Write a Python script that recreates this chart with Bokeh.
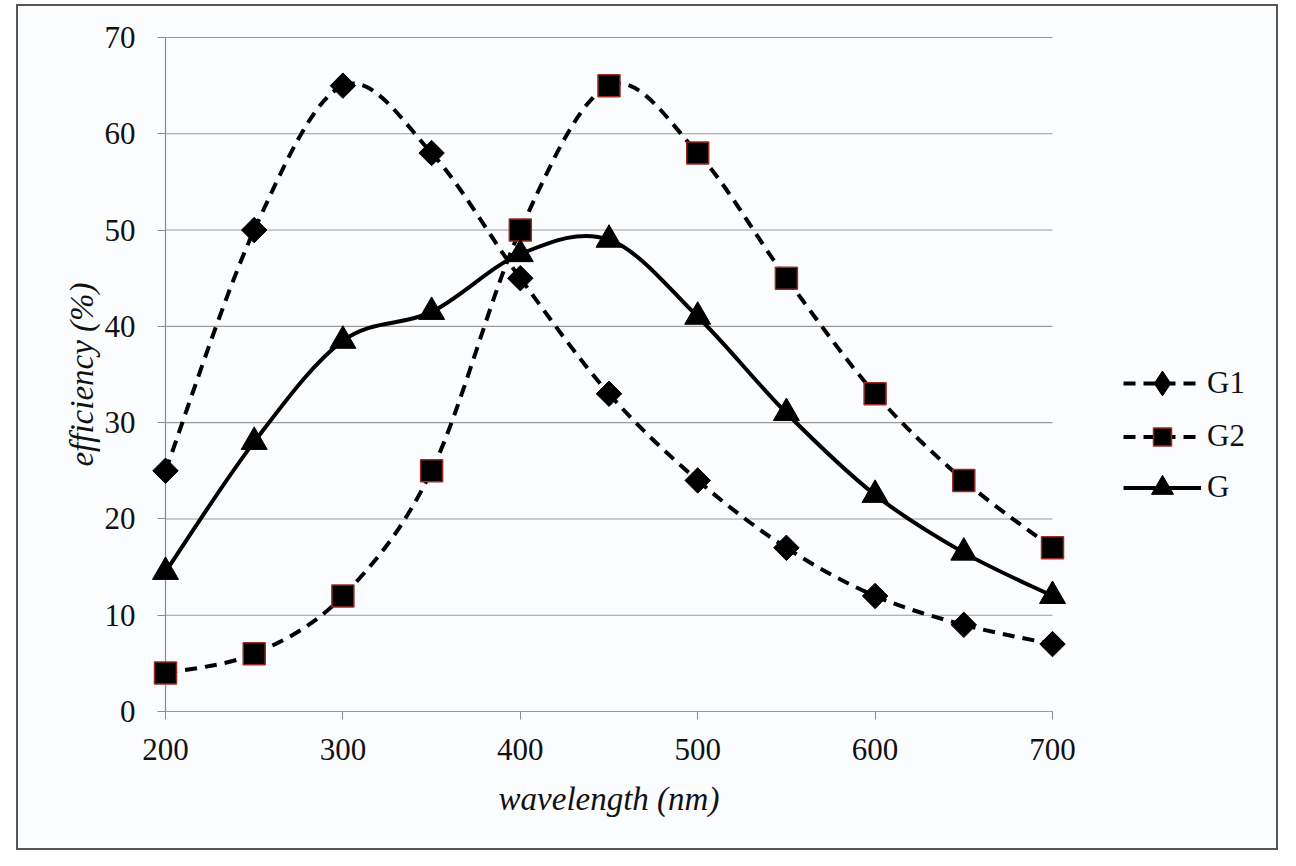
import math
from bokeh.plotting import figure
from bokeh.models import Legend, LegendItem, Range1d, FixedTicker, Label
from bokeh.embed import file_html
from bokeh.resources import INLINE

wavelength = [200, 250, 300, 350, 400, 450, 500, 550, 600, 650, 700]
g1 = [25, 50, 65, 58, 45, 33, 24, 17, 12, 9, 7]
g2 = [4, 6, 12, 25, 50, 65, 58, 45, 33, 24, 17]
g = [14.5, 28, 38.5, 41.5, 47.5, 49, 41, 31, 22.5, 16.5, 12]
series_names = ["G1", "G2", "G"]
x_ticks = [200, 300, 400, 500, 600, 700]
y_ticks = [0, 10, 20, 30, 40, 50, 60, 70]

SERIF = "Liberation Serif"

# pixel layout of the plotting area inside the framed canvas
CANVAS_W, CANVAS_H = 1262, 846
AREA_L, AREA_R, AREA_T, AREA_B = 147, 1034, 31, 705   # canvas px of 200/700 and 70/0
xs_per_px = (x_ticks[-1] - x_ticks[0]) / (AREA_R - AREA_L)
ys_per_px = (y_ticks[-1] - y_ticks[0]) / (AREA_B - AREA_T)
x_start = x_ticks[0] - AREA_L * xs_per_px
x_end = x_ticks[-1] + (CANVAS_W - AREA_R) * xs_per_px
y_end = y_ticks[-1] + AREA_T * ys_per_px
y_start = y_ticks[0] - (CANVAS_H - AREA_B) * ys_per_px


def bezier_segments(xs, ys):
    """Catmull-Rom style control points (chart smoothing) from the data points."""
    n = len(xs)
    out = dict(x0=[], y0=[], x1=[], y1=[], cx0=[], cy0=[], cx1=[], cy1=[])
    for i in range(n - 1):
        p0 = (xs[max(i - 1, 0)], ys[max(i - 1, 0)])
        p1 = (xs[i], ys[i])
        p2 = (xs[i + 1], ys[i + 1])
        p3 = (xs[min(i + 2, n - 1)], ys[min(i + 2, n - 1)])
        out["x0"].append(p1[0]); out["y0"].append(p1[1])
        out["x1"].append(p2[0]); out["y1"].append(p2[1])
        out["cx0"].append(p1[0] + (p2[0] - p0[0]) / 6.0)
        out["cy0"].append(p1[1] + (p2[1] - p0[1]) / 6.0)
        out["cx1"].append(p2[0] - (p3[0] - p1[0]) / 6.0)
        out["cy1"].append(p2[1] - (p3[1] - p1[1]) / 6.0)
    return out


p = figure(width=CANVAS_W, height=CANVAS_H, output_backend="svg", toolbar_location=None,
           x_range=Range1d(x_start, x_end), y_range=Range1d(y_start, y_end),
           min_border_left=0, min_border_right=0, min_border_top=0,
           min_border_bottom=0, background_fill_color="#fbfcfe",
           border_fill_color="#fbfcfe", outline_line_color=None)
p.styles = {"border": "2px solid #555555", "margin-left": "16px", "margin-top": "4px"}

# axes, fixed at wavelength 200 and efficiency 0
p.xaxis.ticker = FixedTicker(ticks=x_ticks)
p.yaxis.ticker = FixedTicker(ticks=y_ticks)
p.xaxis.fixed_location = y_ticks[0]
p.yaxis.fixed_location = x_ticks[0]
p.xaxis.bounds = (x_ticks[0], x_ticks[-1])
p.yaxis.bounds = (y_ticks[0], y_ticks[-1])
for ax in (p.xaxis[0], p.yaxis[0]):
    ax.level = "underlay"
    ax.axis_line_color = "#8a8a8a"
    ax.axis_line_width = 1.2
    ax.major_tick_line_color = "#8a8a8a"
    ax.major_tick_in = 0
    ax.major_tick_out = 8
    ax.minor_tick_line_color = None
    ax.major_label_text_font = SERIF
    ax.major_label_text_font_size = "31px"
    ax.major_label_text_color = "#111111"
p.xaxis.major_label_standoff = 19
p.yaxis.major_label_standoff = 22

p.xgrid.grid_line_color = None
p.ygrid.grid_line_color = None

# horizontal grid lines between the first and last wavelength ticks
p.segment(x0=[x_ticks[0]] * len(y_ticks), x1=[x_ticks[-1]] * len(y_ticks),
          y0=y_ticks, y1=y_ticks, line_color="#9a9a9a", line_width=1.1)

# axis titles
p.add_layout(Label(x=(x_ticks[0] + x_ticks[-1]) / 2, y=y_ticks[0] - 87 * ys_per_px,
                   text="wavelength (nm)", text_align="center", text_baseline="middle",
                   text_font=SERIF, text_font_style="italic", text_font_size="33px",
                   text_color="#111111"))
p.add_layout(Label(x=x_ticks[0] - 84 * xs_per_px, y=(y_ticks[0] + y_ticks[-1]) / 2,
                   text="efficiency (%)", text_align="center", text_baseline="middle",
                   angle=math.pi / 2, text_font=SERIF, text_font_style="italic",
                   text_font_size="33px", text_color="#111111"))

# curves
seg1 = bezier_segments(wavelength, g1)
seg2 = bezier_segments(wavelength, g2)
seg3 = bezier_segments(wavelength, g)

curve_kw = dict(x0="x0", y0="y0", x1="x1", y1="y1", cx0="cx0", cy0="cy0",
                cx1="cx1", cy1="cy1", line_color="black", line_width=4)
c1 = p.bezier(source=seg1, line_dash="12 8", **curve_kw)
c2 = p.bezier(source=seg2, line_dash="12 8", **curve_kw)
c3 = p.bezier(source=seg3, **curve_kw)

m1 = p.scatter(wavelength, g1, marker="square", angle=math.pi / 4, size=18,
               fill_color="black", line_color="black")
m2 = p.scatter(wavelength, g2, marker="square", size=22, fill_color="black",
               line_color="#9a2a22", line_width=1.5)
m3 = p.scatter(wavelength, g, marker="triangle", size=26, fill_color="black",
               line_color="black")
# legend-only diamond symbol for G1 (a single undrawn NaN point)
k1 = p.scatter(x=[math.nan], y=[math.nan], marker="diamond", size=24,
               fill_color="black", line_color="black")

# one legend entry per series, rows centred at these canvas rows
legend_rows = [(series_names[0], [c1, k1], 377, 62),
               (series_names[1], [c2, m2], 430, 45),
               (series_names[2], [c3, m3], 481, 55)]
for name, rends, row_y, gh in legend_rows:
    lg = Legend(items=[LegendItem(label=name, renderers=rends)],
                location=(1105, CANVAS_H - row_y - gh / 2), orientation="vertical",
                label_text_font=SERIF, label_text_font_size="31px",
                label_text_color="#111111", glyph_width=78, glyph_height=gh,
                label_height=gh, label_standoff=6, spacing=0, padding=0,
                margin=0, background_fill_alpha=0, border_line_color=None)
    p.add_layout(lg, "center")

open("out.html", "w").write(file_html(p, INLINE))
